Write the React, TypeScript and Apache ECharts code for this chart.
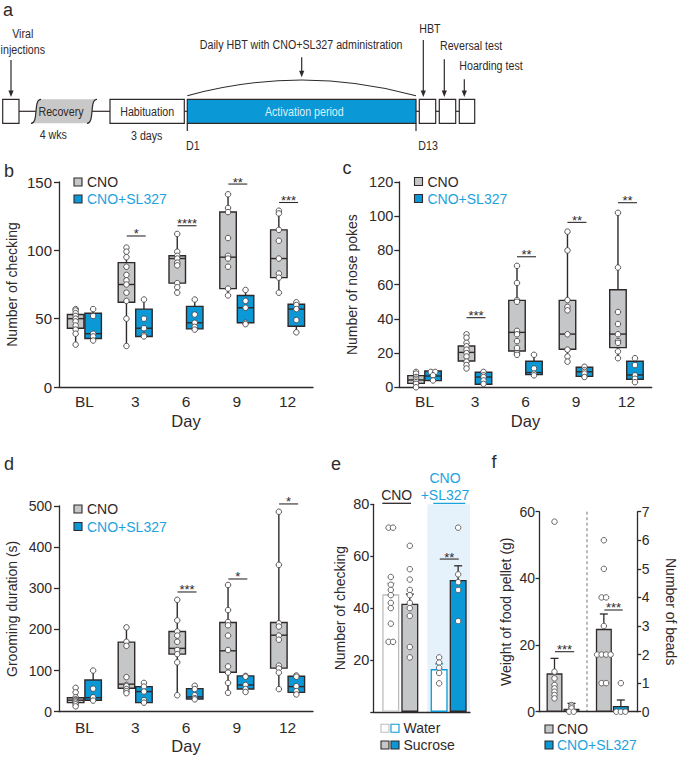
import React, { useEffect, useRef } from 'react';
import * as echarts from 'echarts';

// ================= DATA =================
const DAYS = ['BL', '3', '6', '9', '12'];

// Panel b – Number of checking. Box stats: [min, q1, median, q3, max]
const B_CNO_BOX = [[31, 43, 50, 53, 57], [30, 62, 75, 91, 102], [69, 76, 94, 96, 112], [67, 72, 95, 128, 141], [69, 80, 94, 115, 129]];
const B_SL_BOX = [[34, 35.5, 39, 54, 57], [37, 37, 43, 57, 64], [42, 42.5, 47, 59, 64], [47, 47, 58, 67, 71], [40, 44.5, 57, 60.5, 62]];
const B_CNO_PTS = [[57, 56, 54, 52, 50, 48, 45, 42, 39, 31], [102, 99, 95, 88, 82, 78, 75, 69, 63, 50, 30], [112, 99, 96, 94, 91, 89, 76, 73, 69], [141, 131, 128, 109, 96, 94, 88, 72, 67], [129, 127, 115, 107, 94, 83, 80, 69]];
const B_SL_PTS = [[57, 52, 39, 37, 34], [64, 50, 43, 38, 37], [64, 53, 47, 44, 42], [71, 63, 58, 47, 46], [62, 60, 57, 49, 40]];
const B_SIG_DAYS = ['3', '6', '9', '12'];
const B_SIG_Y = [110.5, 118, 148.5, 135];
const B_SIG_TXT = ['*', '****', '**', '***'];

// Panel c – Number of nose pokes
const C_CNO_BOX = [[0, 2.3, 4.3, 6.8, 9.7], [10.7, 15.4, 20.4, 24.1, 31], [18.5, 21.2, 32.1, 50.8, 71], [15, 22.2, 31.1, 50.8, 91], [17, 23.2, 31.1, 57, 102]];
const C_SL_BOX = [[3.9, 3.9, 6.6, 9.5, 9.5], [1.5, 1.8, 6, 8.8, 9], [7.4, 7.4, 8.6, 15.2, 19.5], [6, 6.4, 9.1, 11.7, 12], [2.9, 4.7, 7.2, 15.2, 17.3]];
const C_CNO_PTS = [[9, 8, 6, 5, 4, 3, 2, 0], [31, 29, 26, 24, 22, 20, 18, 15, 13, 11], [71, 61, 51, 50, 33, 31, 27, 23, 20, 19], [91, 80, 51, 47, 45, 31, 22, 18, 15], [102, 70, 44, 37, 31, 27, 26, 21, 17]];
const C_SL_PTS = [[9, 9, 7, 4], [9, 7, 6, 4, 2], [19, 11, 8, 7], [12, 10, 9, 8, 6], [17, 13, 7, 5, 3]];
const C_SIG_DAYS = ['3', '6', '9', '12'];
const C_SIG_Y = [40.7, 76.3, 96.4, 107.9];
const C_SIG_TXT = ['***', '**', '**', '**'];

// Panel d – Grooming duration (s)
const D_CNO_BOX = [[12, 22, 28, 34, 59], [45, 57, 67, 169, 206], [41, 140, 154, 195, 272], [46, 96, 148, 217, 308], [55, 106, 186, 217, 486]];
const D_SL_BOX = [[27, 28, 34, 77, 101], [22, 22, 49, 61, 71], [31, 31, 36, 56, 65], [49, 55, 65, 87, 87], [41, 47, 61, 86, 88]];
const D_CNO_PTS = [[58, 47, 35, 30, 28, 25, 22, 18, 13], [205, 170, 160, 84, 65, 62, 55, 50, 45], [272, 222, 195, 185, 170, 150, 140, 120, 40], [308, 247, 218, 210, 185, 150, 110, 95, 70, 46], [486, 357, 215, 207, 185, 175, 112, 105, 95, 55]];
const D_SL_PTS = [[100, 56, 35, 27], [70, 61, 49, 28, 22], [63, 55, 40, 33, 30], [87, 85, 65, 55, 48], [88, 85, 62, 50, 42]];
const D_SIG_DAYS = ['6', '9', '12'];
const D_SIG_Y = [291, 322.6, 505];
const D_SIG_TXT = ['***', '*', '*'];

// Panel e – Number of checking, [CNO, CNO+SL327]
const E_WATER_MEAN = [45.3, 16.5];
const E_WATER_SEM = [4.3, 2.0];
const E_SUC_MEAN = [41.7, 50.8];
const E_SUC_SEM = [3.7, 5.5];
const E_WATER_PTS = [[71, 71, 52, 49, 47, 45, 42, 40, 34, 27, 27], [21, 19, 17, 15, 11]];
const E_SUC_PTS = [[64, 55, 51, 47, 45, 42, 40, 37, 25, 21], [71, 53, 50, 47, 35]];
const E_SIG_Y = 58.9;
const E_SIG_TXT = '**';

// Panel f – [CNO, CNO+SL327]
const F_WEIGHT_MEAN = [11.5, 0.9];
const F_WEIGHT_SEM = [4.5, 1.6];
const F_BEADS_MEAN = [2.9, 0.2];
const F_BEADS_SEM = [0.52, 0.21];
const F_WEIGHT_PTS = [[57, 12, 10, 8, 7, 6, 5, 4], [2, 1.5, 1, 0, 0]];
const F_BEADS_PTS = [[6, 5, 4, 4, 3, 2, 2, 2, 2, 1, 1], [1, 0, 0, 0]];
const F_SIG_WEIGHT_Y = 18;
const F_SIG_BEADS_Y = 3.56;
const F_SIG_TXT = '***';

// ================= STYLE =================
const DARK = '#2f292a';
const GRAY = '#c5c6c7';
const BLUE = '#0a99d6';
const BLUE_TEXT = '#1da2dd';
const LIGHT_GRAY_LINE = '#bdbdbd';
const FONT = '"Liberation Sans", Arial, Helvetica, sans-serif';
const NARROW_SCALE = 0.79;

echarts.graphic.registerShape(
  'recoveryShape',
  echarts.graphic.extendPath('M41 99.3 C33 99.3 39 123.3 31 123.3 L87 123.3 C95 123.3 89 99.3 97 99.3 Z', {})
);

function jitter(vals: number[], step: number): number[] {
  const counts: Record<string, number> = {};
  vals.forEach((v) => (counts[v] = (counts[v] || 0) + 1));
  const seen: Record<string, number> = {};
  return vals.map((v) => {
    seen[v] = seen[v] === undefined ? 0 : seen[v] + 1;
    return (seen[v] - (counts[v] - 1) / 2) * step;
  });
}

function boxSeries(name: string, boxes: number[][], offset: number, fill: string, axis: number) {
  const W = 16.5;
  return {
    type: 'custom',
    name,
    xAxisIndex: axis,
    yAxisIndex: axis,
    silent: true,
    z: 2,
    encode: { x: 0, y: [1, 2, 3, 4, 5] },
    data: boxes.map((b, i) => [i, ...b]),
    renderItem: (params: any, api: any) => {
      const c = api.value(0);
      const p = (v: number) => api.coord([c, v]);
      const x = p(api.value(1))[0] + offset;
      const yMin = p(api.value(1))[1];
      const yQ1 = p(api.value(2))[1];
      const yMed = p(api.value(3))[1];
      const yQ3 = p(api.value(4))[1];
      const yMax = p(api.value(5))[1];
      const st = { stroke: DARK, lineWidth: 1.4 };
      return {
        type: 'group',
        children: [
          { type: 'line', shape: { x1: x, y1: yMax, x2: x, y2: yQ3 }, style: st },
          { type: 'line', shape: { x1: x, y1: yQ1, x2: x, y2: yMin }, style: st },
          { type: 'rect', shape: { x: x - W / 2, y: yQ3, width: W, height: yQ1 - yQ3 }, style: { fill, stroke: DARK, lineWidth: 1.4 } },
          { type: 'line', shape: { x1: x - W / 2, y1: yMed, x2: x + W / 2, y2: yMed }, style: st },
        ],
      };
    },
  };
}

function pointSeries(name: string, pts: number[][], offset: number, axis: number, step = 4.5, stroke = '#4a4445') {
  const data: any[] = [];
  pts.forEach((arr, ci) => {
    const j = jitter(arr, step);
    arr.forEach((v, k) => data.push({ value: [ci, v], symbolOffset: [offset + j[k], 0] }));
  });
  return {
    type: 'scatter',
    name,
    xAxisIndex: axis,
    yAxisIndex: axis,
    silent: true,
    symbol: 'circle',
    symbolSize: 5.5,
    z: 5,
    itemStyle: { color: '#ffffff', borderColor: stroke, borderWidth: 0.9, opacity: 1 },
    data,
  };
}

function sigSeries(catIdx: number[], ys: number[], txt: string[], axis: number, dx = 1, hw = 9.5) {
  return {
    type: 'custom',
    xAxisIndex: axis,
    yAxisIndex: axis,
    silent: true,
    z: 6,
    encode: { x: 0, y: 1 },
    data: catIdx.map((c, i) => [c, ys[i], i]),
    renderItem: (params: any, api: any) => {
      const pt = api.coord([api.value(0), api.value(1)]);
      const x = pt[0] + dx;
      const y = pt[1];
      const t = txt[api.value(2)];
      return {
        type: 'group',
        children: [
          { type: 'line', shape: { x1: x - hw, y1: y, x2: x + hw, y2: y }, style: { stroke: DARK, lineWidth: 1.1 } },
          {
            type: 'text',
            x,
            y: y - 2,
            style: { text: t, fill: DARK, fontSize: 13, fontFamily: FONT, align: 'center', verticalAlign: 'middle', textAlign: 'center', textVerticalAlign: 'middle' },
          },
        ],
      };
    },
  };
}

function errSeries(axis: number, mean: number, sem: number, offset: number, color: string) {
  return {
    type: 'custom',
    xAxisIndex: axis,
    yAxisIndex: axis,
    silent: true,
    z: 4,
    encode: { x: 0, y: [1, 2] },
    data: [[0, mean, mean + sem]],
    renderItem: (params: any, api: any) => {
      const a = api.coord([api.value(0), api.value(1)]);
      const b = api.coord([api.value(0), api.value(2)]);
      const x = a[0] + offset;
      const st = { stroke: color, lineWidth: 1.3 };
      return {
        type: 'group',
        children: [
          { type: 'line', shape: { x1: x, y1: a[1], x2: x, y2: b[1] }, style: st },
          { type: 'line', shape: { x1: x - 4, y1: b[1], x2: x + 4, y2: b[1] }, style: st },
        ],
      };
    },
  };
}

function barSeries(name: string, axis: number, value: number, width: number, gap: string, fill: string, stroke: string) {
  return {
    type: 'bar',
    name,
    xAxisIndex: axis,
    yAxisIndex: axis,
    silent: true,
    z: 2,
    barWidth: width,
    barGap: gap,
    data: [value],
    itemStyle: { color: fill, borderColor: stroke, borderWidth: 1.3 },
  };
}

function yAxis(gridIndex: number, min: number, max: number, interval: number, name: string, o: any = {}) {
  return {
    type: 'value',
    gridIndex,
    min,
    max,
    interval,
    name,
    show: o.show !== false,
    position: o.position || 'left',
    nameLocation: 'middle',
    nameGap: o.nameGap ?? 40,
    nameRotate: o.nameRotate,
    nameTextStyle: { fontSize: 14, color: DARK, fontFamily: FONT },
    axisLine: { show: true, lineStyle: { color: DARK, width: 1.3 } },
    axisTick: { show: true, length: o.tick ?? 5, lineStyle: { color: DARK, width: 1.3 } },
    axisLabel: { fontSize: o.fs ?? 14.5, color: DARK, margin: o.margin ?? 7, fontFamily: FONT, formatter: o.formatter },
    splitLine: { show: false },
  };
}

function xCat(gridIndex: number, data: string[], withLabels: boolean, o: any = {}) {
  return {
    type: 'category',
    gridIndex,
    data,
    name: withLabels ? 'Day' : '',
    nameLocation: 'middle',
    nameGap: o.nameGap ?? 25,
    nameTextStyle: { fontSize: 16.5, color: DARK, fontFamily: FONT },
    axisLine: { show: true, lineStyle: { color: DARK, width: 1.3 } },
    axisTick: { show: false },
    axisLabel: { show: withLabels, fontSize: 15.5, color: DARK, margin: o.margin ?? 6, fontFamily: FONT },
    splitLine: { show: false },
  };
}

// ================= GRAPHICS (panel a, letters, legends) =================
function txt(x: number, y: number, text: string, o: any = {}) {
  return {
    type: 'text',
    x,
    y,
    scaleX: o.scaleX ?? 1,
    silent: true,
    style: {
      text,
      x: 0,
      y: 0,
      fill: o.fill || DARK,
      fontSize: o.fs || 14,
      fontFamily: FONT,
      align: o.align || 'left',
      textAlign: o.align || 'left',
      verticalAlign: 'middle',
      textVerticalAlign: 'middle',
    },
  };
}
function box(x1: number, x2: number, fill = '#fff') {
  return { type: 'rect', silent: true, shape: { x: x1, y: 99.3, width: x2 - x1, height: 24 }, style: { fill, stroke: DARK, lineWidth: 1.2 } };
}
function hline(x1: number, x2: number, y: number, color = DARK, w = 1.2) {
  return { type: 'line', silent: true, shape: { x1, y1: y, x2, y2: y }, style: { stroke: color, lineWidth: w } };
}
function vline(x: number, y1: number, y2: number, color = DARK, w = 1.2) {
  return { type: 'line', silent: true, shape: { x1: x, y1, x2: x, y2 }, style: { stroke: color, lineWidth: w } };
}
function arrow(x: number, y1: number, y2: number) {
  return [
    vline(x, y1, y2 - 4),
    { type: 'polygon', silent: true, shape: { points: [[x - 2.6, y2 - 6.5], [x + 2.6, y2 - 6.5], [x, y2]] }, style: { fill: DARK } },
  ];
}
function sq(x: number, y: number, fill: string, stroke: string) {
  return { type: 'rect', silent: true, shape: { x, y, width: 8, height: 8 }, style: { fill, stroke, lineWidth: 1.1 } };
}

function buildGraphics() {
  const G: any[] = [];
  const N = { fs: 13.5, scaleX: NARROW_SCALE };
  // panel letters
  G.push(txt(3, 10, 'a', { fs: 18 }));
  G.push(txt(4, 170.5, 'b', { fs: 18 }));
  G.push(txt(342.5, 167.8, 'c', { fs: 18 }));
  G.push(txt(4, 463.8, 'd', { fs: 18 }));
  G.push(txt(331, 463.8, 'e', { fs: 18 }));
  G.push(txt(491.5, 461.8, 'f', { fs: 18 }));

  // ---- panel a timeline ----
  const ym = 111.3;
  G.push(txt(22.7, 33.3, 'Viral', { ...N, align: 'center' }));
  G.push(txt(22.8, 49.3, 'injections', { ...N, align: 'center' }));
  G.push(...arrow(11, 60, 97));
  G.push(hline(19, 36, ym));
  G.push(hline(92, 110, ym));
  G.push(box(2.7, 19));
  G.push({ type: 'recoveryShape', x: 0, y: 0, scaleX: 1, scaleY: 1, silent: true, style: { fill: '#c8c8c8', stroke: null } });
  G.push({ type: 'bezierCurve', silent: true, shape: { x1: 41, y1: 99.3, cpx1: 33, cpy1: 99.3, cpx2: 39, cpy2: 123.3, x2: 31, y2: 123.3 }, style: { stroke: DARK, fill: 'none', lineWidth: 1.2 } });
  G.push({ type: 'bezierCurve', silent: true, shape: { x1: 87, y1: 123.3, cpx1: 95, cpy1: 123.3, cpx2: 89, cpy2: 99.3, x2: 97, y2: 99.3 }, style: { stroke: DARK, fill: 'none', lineWidth: 1.2 } });
  G.push(txt(61, ym, 'Recovery', { ...N, align: 'center' }));
  G.push(txt(53.3, 135, '4 wks', { ...N, align: 'center' }));
  G.push(hline(184.3, 187.3, ym));
  G.push(box(110, 184.3));
  G.push(txt(147.2, ym, 'Habituation', { ...N, align: 'center' }));
  G.push(txt(146.7, 136, '3 days', { ...N, align: 'center' }));
  G.push(box(187.3, 416, BLUE));
  G.push(txt(304.3, ym, 'Activation period', { ...N, align: 'center', fill: '#dcf0fb' }));
  G.push(vline(187.3, 123.3, 131));
  G.push(vline(416, 123.3, 131));
  G.push(txt(186, 145.7, 'D1', N));
  G.push(txt(418.3, 145.7, 'D13', N));
  G.push({ type: 'bezierCurve', silent: true, shape: { x1: 187.3, y1: 95.7, cpx1: 263.5, cpy1: 74.8, cpx2: 339.8, cpy2: 74.8, x2: 416, y2: 95.7 }, style: { stroke: DARK, fill: 'none', lineWidth: 1.1 } });
  G.push(...arrow(301.7, 57.3, 77.3));
  G.push(txt(301.2, 45, 'Daily HBT with CNO+SL327 administration', { ...N, align: 'center' }));
  G.push(hline(416, 419.3, ym));
  G.push(hline(435.7, 439.3, ym));
  G.push(hline(455.7, 459.3, ym));
  G.push(box(419.3, 435.7));
  G.push(box(439.3, 455.7));
  G.push(box(459.3, 474.7));
  G.push(...arrow(423.3, 40, 97));
  G.push(...arrow(444.3, 59.3, 97));
  G.push(...arrow(464.3, 79.3, 97));
  G.push(txt(419.3, 29, 'HBT', N));
  G.push(txt(440, 45.7, 'Reversal test', N));
  G.push(txt(459.3, 65.7, 'Hoarding test', N));

  // ---- legends for box panels ----
  const boxLegend = (x: number, y1: number, y2: number) => [
    sq(x, y1 - 4, GRAY, DARK),
    txt(x + 13, y1, 'CNO'),
    sq(x, y2 - 4, BLUE, DARK),
    txt(x + 13, y2, 'CNO+SL327', { fill: BLUE_TEXT }),
  ];
  G.push(...boxLegend(74, 182, 199));
  G.push(...boxLegend(414.5, 181.5, 198.5));
  G.push(...boxLegend(74, 509, 526.5));

  // ---- panel e headers & legend ----
  G.push(txt(396.7, 495, 'CNO', { align: 'center' }));
  G.push(hline(382.3, 411, 503.3, DARK, 1.3));
  G.push(txt(445, 478.3, 'CNO', { align: 'center', fill: BLUE_TEXT }));
  G.push(txt(445, 495, '+SL327', { align: 'center', fill: BLUE_TEXT }));
  G.push(hline(433.3, 465.3, 503.3, BLUE_TEXT, 1.3));
  G.push(sq(381, 724.3, '#fff', LIGHT_GRAY_LINE));
  G.push(sq(391, 724.3, '#fff', BLUE));
  G.push(txt(403.5, 728.3, 'Water'));
  G.push(sq(381, 741, GRAY, DARK));
  G.push(sq(391, 741, BLUE, DARK));
  G.push(txt(403.5, 745, 'Sucrose'));

  // ---- panel f separator & legend ----
  G.push({ type: 'line', silent: true, shape: { x1: 587, y1: 511.7, x2: 587, y2: 711.7 }, style: { stroke: '#777', lineWidth: 1, lineDash: [3, 2.5] } });
  G.push(sq(545, 725, GRAY, DARK));
  G.push(txt(557, 729, 'CNO'));
  G.push(sq(545, 741, BLUE, DARK));
  G.push(txt(557, 745, 'CNO+SL327', { fill: BLUE_TEXT }));
  return G;
}

function buildOption() {
  const idx = (days: string[]) => days.map((d) => DAYS.indexOf(d));
  const series: any[] = [
    // b
    boxSeries('CNO', B_CNO_BOX, -8.75, GRAY, 0),
    boxSeries('CNO+SL327', B_SL_BOX, 8.75, BLUE, 0),
    pointSeries('b CNO pts', B_CNO_PTS, -8.75, 0),
    pointSeries('b SL pts', B_SL_PTS, 8.75, 0),
    sigSeries(idx(B_SIG_DAYS), B_SIG_Y, B_SIG_TXT, 0),
    // c
    boxSeries('CNO', C_CNO_BOX, -8.5, GRAY, 1),
    boxSeries('CNO+SL327', C_SL_BOX, 8.5, BLUE, 1),
    pointSeries('c CNO pts', C_CNO_PTS, -8.5, 1),
    pointSeries('c SL pts', C_SL_PTS, 8.5, 1),
    sigSeries(idx(C_SIG_DAYS), C_SIG_Y, C_SIG_TXT, 1),
    // d
    boxSeries('CNO', D_CNO_BOX, -8.75, GRAY, 2),
    boxSeries('CNO+SL327', D_SL_BOX, 8.75, BLUE, 2),
    pointSeries('d CNO pts', D_CNO_PTS, -8.75, 2),
    pointSeries('d SL pts', D_SL_PTS, 8.75, 2),
    sigSeries(idx(D_SIG_DAYS), D_SIG_Y, D_SIG_TXT, 2),
  ];
  // e: axis 3 = CNO, axis 4 = CNO+SL327
  [3, 4].forEach((ax, g) => {
    const waterStroke = g === 0 ? LIGHT_GRAY_LINE : BLUE;
    const sucFill = g === 0 ? GRAY : BLUE;
    series.push(barSeries('Water', ax, E_WATER_MEAN[g], 17, '12%', '#ffffff', waterStroke));
    series.push(barSeries('Sucrose', ax, E_SUC_MEAN[g], 17, '12%', sucFill, DARK));
    series.push(errSeries(ax, E_WATER_MEAN[g], E_WATER_SEM[g], -9.5, waterStroke));
    series.push(errSeries(ax, E_SUC_MEAN[g], E_SUC_SEM[g], 9.5, DARK));
    series.push(pointSeries('e water pts', [E_WATER_PTS[g]], -9.5, ax, 4.5, '#5a5456'));
    series.push(pointSeries('e suc pts', [E_SUC_PTS[g]], 9.5, ax, 4.5, '#5a5456'));
  });
  series.push(sigSeries([0], [E_SIG_Y], [E_SIG_TXT], 4, 0.6, 9.5));
  // f: axis 5 = weight (g), axis 6 = beads
  const fMeans = [F_WEIGHT_MEAN, F_BEADS_MEAN];
  const fSems = [F_WEIGHT_SEM, F_BEADS_SEM];
  const fPts = [F_WEIGHT_PTS, F_BEADS_PTS];
  [5, 6].forEach((ax, g) => {
    series.push(barSeries('CNO', ax, fMeans[g][0], 16, '6%', GRAY, DARK));
    series.push(barSeries('CNO+SL327', ax, fMeans[g][1], 16, '6%', BLUE, DARK));
    series.push(errSeries(ax, fMeans[g][0], fSems[g][0], -8.5, DARK));
    series.push(errSeries(ax, fMeans[g][1], fSems[g][1], 8.5, DARK));
    series.push(pointSeries('f cno pts', [fPts[g][0]], -8.5, ax, 4.5, '#5a5456'));
    series.push(pointSeries('f sl pts', [fPts[g][1]], 8.5, ax, 4.5, '#5a5456'));
  });
  series.push(sigSeries([0], [F_SIG_WEIGHT_Y], [F_SIG_TXT], 5, 1.6, 9.6));
  series.push(sigSeries([0], [F_SIG_BEADS_Y], [F_SIG_TXT], 6, 1.2, 9.2));

  return {
    animation: false,
    backgroundColor: '#ffffff',
    textStyle: { fontFamily: FONT },
    grid: [
      { left: 59, top: 182, width: 254, height: 205 },
      { left: 399.3, top: 182, width: 252.4, height: 205.3 },
      { left: 59, top: 506, width: 254, height: 205.7 },
      { left: 373.3, top: 504.3, width: 54, height: 207.6 },
      { left: 427.3, top: 504.3, width: 42.7, height: 207.6, show: true, backgroundColor: '#e6f2fb', borderWidth: 0 },
      { left: 539, top: 511.7, width: 48, height: 200 },
      { left: 587, top: 511.7, width: 50.7, height: 200 },
    ],
    xAxis: [
      xCat(0, DAYS, true),
      xCat(1, DAYS, true),
      xCat(2, DAYS, true, { nameGap: 26, margin: 8 }),
      xCat(3, ['CNO'], false),
      xCat(4, ['CNO+SL327'], false),
      xCat(5, ['Weight'], false),
      xCat(6, ['Beads'], false),
    ],
    yAxis: [
      yAxis(0, 0, 150, 50, 'Number of checking', { fs: 15, margin: 7 }),
      yAxis(1, 0, 120, 20, 'Number of nose pokes', { margin: 6 }),
      yAxis(2, 0, 500, 100, 'Grooming duration (s)', { fs: 14, margin: 7 }),
      yAxis(3, 0, 80, 20, 'Number of checking', { nameGap: 26, tick: 3, margin: 4, formatter: (v: number) => (v === 0 ? '' : String(v)) }),
      yAxis(4, 0, 80, 20, '', { show: false }),
      yAxis(5, 0, 60, 20, 'Weight of food pellet (g)', { nameGap: 26, tick: 3.5, margin: 4, fs: 14 }),
      yAxis(6, 0, 7, 1, 'Number of beads', { position: 'right', nameGap: 26, tick: 3.5, margin: 4, fs: 14, nameRotate: -90 }),
    ],
    series,
    graphic: buildGraphics(),
  };
}

export default function App() {
  const ref = useRef<HTMLDivElement>(null);
  useEffect(() => {
    const chart = echarts.init(ref.current as HTMLDivElement, null, { renderer: 'svg' });
    chart.setOption(buildOption() as any);
    return () => chart.dispose();
  }, []);
  return <div ref={ref} style={{ position: 'absolute', left: 0, top: 0, width: 685, height: 757, background: '#fff' }} />;
}
